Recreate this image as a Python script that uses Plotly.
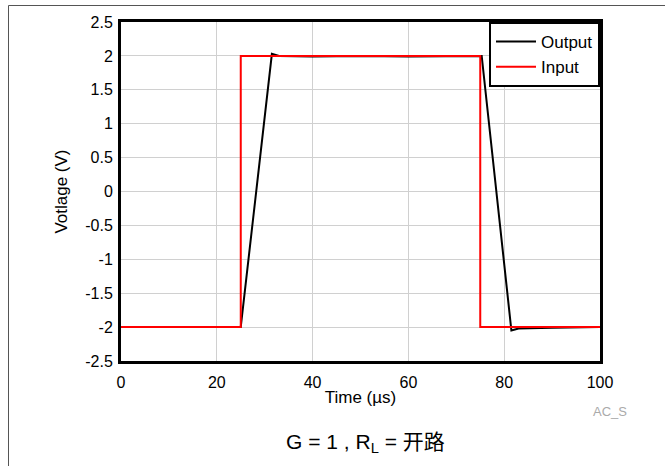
import plotly.graph_objects as go

# Data
input_t = [0, 25, 25, 75, 75, 100]
input_v = [-2, -2, 2, 2, -2, -2]
output_t = [0, 10, 20, 25, 31.5, 33, 40, 50, 60, 70, 75.3, 81.5, 83, 90, 100]
output_v = [-2.0, -2.0, -2.01, -2.0, 2.03, 2.0, 1.99, 2.0, 1.99, 2.0, 2.0, -2.05, -2.02, -2.01, -2.0]
x_ticks = [0, 20, 40, 60, 80, 100]
y_ticks = [-2.5, -2, -1.5, -1, -0.5, 0, 0.5, 1, 1.5, 2, 2.5]
y_tick_text = ["-2.5", "-2", "-1.5", "-1", "-0.5", "0", "0.5", "1", "1.5", "2", "2.5"]

W, H = 665, 466
L, T, PW, PH = 121, 22, 479, 339


def px(x):
    return (x - L) / PW


def py(y):
    return (T + PH - y) / PH


fig = go.Figure()
fig.add_trace(go.Scatter(x=output_t, y=output_v, mode="lines", name="Output",
                         line=dict(color="black", width=2)))
fig.add_trace(go.Scatter(x=input_t, y=input_v, mode="lines", name="Input",
                         line=dict(color="#ff0000", width=2)))

font = "Liberation Sans, Arial, sans-serif"
fig.update_layout(
    width=W, height=H,
    margin=dict(l=L, r=W - L - PW, t=T, b=H - T - PH, autoexpand=False),
    paper_bgcolor="white", plot_bgcolor="white",
    font=dict(family=font, size=16, color="black"),
    showlegend=True,
    legend=dict(x=1, y=1, xanchor="right", yanchor="top",
                bordercolor="black", borderwidth=2, bgcolor="white",
                font=dict(size=17), tracegroupgap=0, itemwidth=40),
    xaxis=dict(range=[0, 100], tickvals=x_ticks, showline=True, linecolor="black",
               linewidth=3, mirror=True, showgrid=True, gridcolor="#d0d0d0",
               zeroline=False, ticks="", ticklabelstandoff=5, automargin=False,
               title=dict(text="Time (µs)", font=dict(size=17), standoff=1)),
    yaxis=dict(range=[-2.5, 2.5], tickvals=y_ticks, ticktext=y_tick_text,
               showline=True, linecolor="black", automargin=False,
               linewidth=3, mirror=True, showgrid=True, gridcolor="#d0d0d0",
               zeroline=False, ticks="", ticklabelstandoff=2,
               title=dict(text="Votlage (V)", font=dict(size=17), standoff=14)),
    shapes=[
        dict(type="line", xref="paper", yref="paper",
             x0=px(8.5), x1=px(8.5), y0=py(470), y1=py(5.5),
             line=dict(color="#555555", width=1)),
        dict(type="line", xref="paper", yref="paper",
             x0=px(8.5), x1=px(670), y0=py(5.5), y1=py(5.5),
             line=dict(color="#555555", width=1)),
    ],
    annotations=[
        dict(text="AC_S", xref="paper", yref="paper",
             x=px(610), y=py(411), xanchor="center", yanchor="middle",
             showarrow=False, font=dict(size=13, color="#aaaaaa")),
        dict(text="G = 1 , R<sub>L</sub> = 开路", xref="paper", yref="paper",
             x=px(365), y=py(443), xanchor="center", yanchor="middle",
             showarrow=False,
             font=dict(size=21, family="Liberation Sans, Noto Sans CJK SC, sans-serif")),
    ],
)

fig.write_html("out.html", config={"displayModeBar": False},
               post_script="document.body.style.margin='0';")
